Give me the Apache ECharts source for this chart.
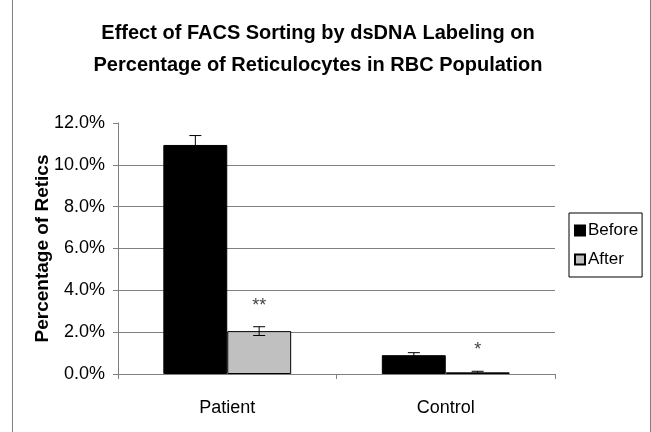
<!DOCTYPE html>
<html>
<head>
<meta charset="utf-8">
<script src="https://cdn.jsdelivr.net/npm/echarts@6/dist/echarts.min.js"></script>
<style>
  html, body { margin: 0; padding: 0; background: #fff; }
  #chart { width: 651px; height: 432px; }
</style>
</head>
<body>
<div id="chart"></div>
<script>
// data
var categories = ["Patient", "Control"];
var beforeValues = [10.95, 0.9];
var afterValues = [2.05, 0.08];
var beforeErr = [0.45, 0.12];
var afterErr = [0.21, 0.05];
var signif = ["**", "*"];

var chartDom = document.getElementById("chart");
var myChart = echarts.init(chartDom);
var font = "Liberation Sans, Arial, sans-serif";

// error bars drawn next to the bars (side = -1 before, +1 after)
function errorSeries(values, errs, side, marks) {
  return {
    type: "custom",
    z: 5,
    silent: true,
    data: values.map(function (v, i) { return [i, v, errs[i], marks ? marks[i] : ""]; }),
    renderItem: function (params, api) {
      var i = api.value(0);
      var band = api.size([1, 0])[0];
      var x = api.coord([i, 0])[0] + side * band * 0.146;
      var top = api.coord([i, api.value(1) + api.value(2)]);
      var bot = api.coord([i, api.value(1) - api.value(2)]);
      var cap = 6;
      var children = [
        { type: "line", shape: { x1: x, y1: top[1], x2: x, y2: bot[1] }, style: { stroke: "#000", lineWidth: 1 } },
        { type: "line", shape: { x1: x - cap, y1: top[1], x2: x + cap, y2: top[1] }, style: { stroke: "#000", lineWidth: 1 } },
        { type: "line", shape: { x1: x - cap, y1: bot[1], x2: x + cap, y2: bot[1] }, style: { stroke: "#000", lineWidth: 1 } }
      ];
      var m = api.value(3);
      if (m) {
        children.push({
          type: "text",
          style: { text: m, x: x, y: top[1] - 12, align: "center", verticalAlign: "bottom", font: "18px " + font, fill: "#444" }
        });
      }
      return { type: "group", children: children };
    }
  };
}

var option = {
  animation: false,
  backgroundColor: "#fff",
  title: {
    text: "Effect of FACS Sorting by dsDNA Labeling on\nPercentage of Reticulocytes in RBC Population",
    left: 313,
    top: 12,
    textAlign: "center",
    textStyle: { fontFamily: font, fontSize: 20, fontWeight: "bold", color: "#000", lineHeight: 32 }
  },
  legend: {
    orient: "vertical",
    left: 569,
    top: 213,
    width: 73,
    padding: [9, 4, 9, 5],
    itemGap: 12,
    itemWidth: 10,
    itemHeight: 10,
    borderColor: "#000",
    borderWidth: 1,
    borderRadius: 0,
    icon: "rect",
    textStyle: { fontFamily: font, fontSize: 17, color: "#000", padding: [0, 0, 0, -2] },
    data: ["Before", "After"]
  },
  grid: { left: 118, right: 96, top: 123, bottom: 58, containLabel: false },
  xAxis: {
    type: "category",
    data: categories,
    axisLine: { lineStyle: { color: "#808080", width: 1 } },
    axisTick: { show: true, length: 5, inside: false, lineStyle: { color: "#808080" } },
    axisLabel: { fontFamily: font, fontSize: 18, color: "#000", margin: 25 }
  },
  yAxis: {
    type: "value",
    min: 0,
    max: 12,
    interval: 2,
    name: "Percentage of Retics",
    nameLocation: "middle",
    nameGap: 66,
    nameMoveOverlap: false,
    nameRotate: 90,
    nameTextStyle: { fontFamily: font, fontSize: 19, fontWeight: "bold", color: "#000" },
    axisLine: { show: true, lineStyle: { color: "#808080", width: 1 } },
    axisTick: { show: true, length: 5, lineStyle: { color: "#808080" } },
    axisLabel: {
      fontFamily: font, fontSize: 18, color: "#000", margin: 13,
      formatter: function (v) { return v.toFixed(1) + "%"; }
    },
    splitLine: { show: true, showMaxLine: false, showMinLine: false, lineStyle: { color: "#808080", width: 1 } }
  },
  series: [
    {
      name: "Before",
      type: "bar",
      data: beforeValues,
      barGap: "0%",
      barCategoryGap: "41.5%",
      itemStyle: { color: "#000", borderColor: "#000", borderWidth: 1 }
    },
    {
      name: "After",
      type: "bar",
      data: afterValues,
      itemStyle: { color: "#c0c0c0", borderColor: "#000", borderWidth: 1 }
    },
    errorSeries(beforeValues, beforeErr, -1, null),
    errorSeries(afterValues, afterErr, 1, signif)
  ],
  graphic: [
    {
      type: "rect",
      shape: { x: 12.5, y: -1, width: 638, height: 440 },
      style: { fill: "none", stroke: "#808080", lineWidth: 1 },
      silent: true
    }
  ]
};

option && myChart.setOption(option);
</script>
</body>
</html>
